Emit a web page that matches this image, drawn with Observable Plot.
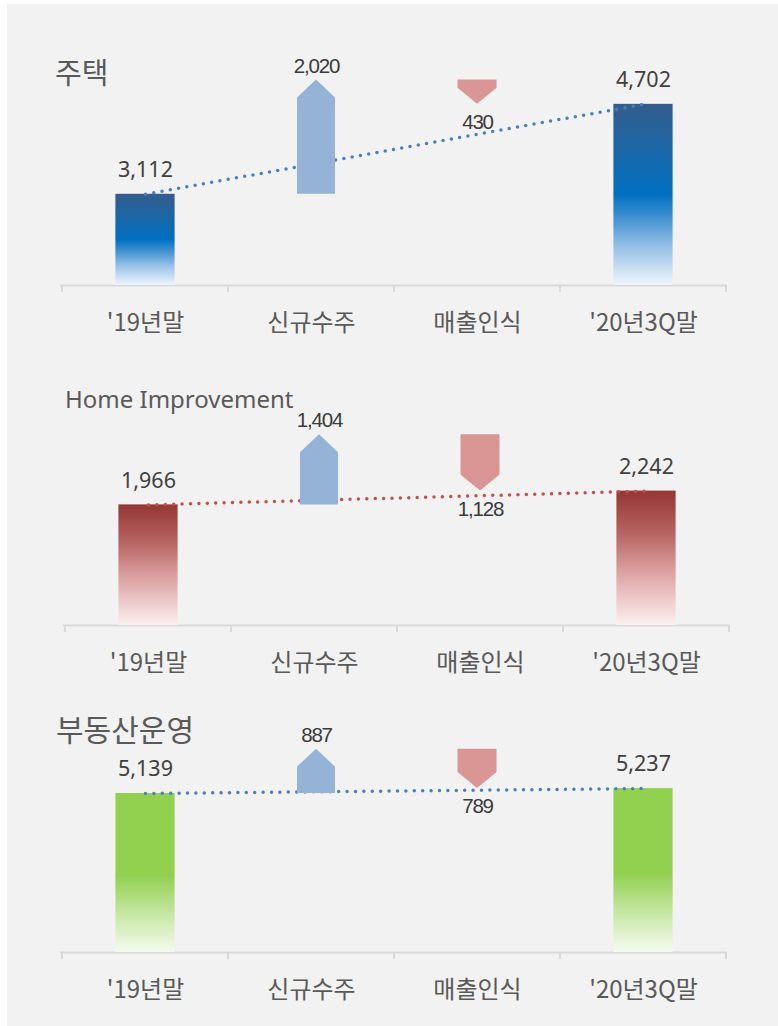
<!DOCTYPE html>
<html>
<head>
<meta charset="utf-8">
<script src="https://cdn.jsdelivr.net/npm/d3@7"></script>
<script src="https://cdn.jsdelivr.net/npm/@observablehq/plot@0.6"></script>
<style>
  body { margin: 0; background: #ffffff; }
  #page { position: relative; width: 778px; height: 1026px; overflow: hidden; }
  #bg { position: absolute; left: 7px; top: 4px; right: 0; bottom: 0; background: #f2f2f2; }
  .panel { position: absolute; left: 0; }
  .title { position: absolute; color: #595959; line-height: 1; white-space: nowrap; }
  g[font-family="Liberation Sans"] text { letter-spacing: -1.2px; }
</style>
</head>
<body>
<svg width="0" height="0" style="position:absolute">
  <defs>
    <linearGradient id="gBlue" x1="0" y1="0" x2="0" y2="1">
      <stop offset="0" stop-color="#355c8d"/>
      <stop offset="0.5" stop-color="#0070c0"/>
      <stop offset="0.62" stop-color="#3c8fd0"/>
      <stop offset="0.8" stop-color="#9cc4e8"/>
      <stop offset="1" stop-color="#eef5fc"/>
    </linearGradient>
    <linearGradient id="gRed" x1="0" y1="0" x2="0" y2="1">
      <stop offset="0" stop-color="#943634"/>
      <stop offset="0.33" stop-color="#b86664"/>
      <stop offset="0.6" stop-color="#dca0a0"/>
      <stop offset="1" stop-color="#fcf0f0"/>
    </linearGradient>
    <linearGradient id="gGreen" x1="0" y1="0" x2="0" y2="1">
      <stop offset="0" stop-color="#92d050"/>
      <stop offset="0.52" stop-color="#92d050"/>
      <stop offset="0.75" stop-color="#c4e6a0"/>
      <stop offset="1" stop-color="#f5fbef"/>
    </linearGradient>
  </defs>
</svg>
<div id="page">
  <div id="bg"></div>
</div>
<script>
// ---- data ----
const categories = ["'19년말", "신규수주", "매출인식", "'20년3Q말"];
const segmentTitles = ["주택", "Home Improvement", "부동산운영"];
const startBalance = [3112, 1966, 5139];
const newOrders = [2020, 1404, 887];
const salesRecognized = [430, 1128, 789];
const endBalance = [4702, 2242, 5237];

// ---- layout / style ----
const panels = [
  {top: 0, height: 340, ml: 60, mr: 51, mt: 40, mb: 55, domain: [1500, 5830], grad: "gBlue", dots: "#4a7ebf",
   title: {left: 55, top: 57, size: 29, font: "'Noto Sans CJK KR'"}},
  {top: 340, height: 340, ml: 63, mr: 48, mt: 50, mb: 55, domain: [-446, 4254], grad: "gRed", dots: "#c0504d",
   title: {left: 65, top: 387, size: 24, font: "'Noto Sans'"}},
  {top: 680, height: 346, ml: 60, mr: 51, mt: 40, mb: 74, domain: [1959, 6599], grad: "gGreen", dots: "#4a7ebf",
   title: {left: 56, top: 713, size: 30, font: "'Noto Sans CJK KR'"}}
];
const upColor = "#95b3d7", downColor = "#d99694";
const ns = "http://www.w3.org/2000/svg";
const fmt = d3.format(",");

function arrowMark(cat, from, to, color, width, tip, dx) {
  return (index, scales) => {
    const x = scales.x, y = scales.y;
    const bw = x.bandwidth ? x.bandwidth() : 0;
    const cx = x(cat) + bw / 2 + dx;
    const y0 = y(from), y1 = y(to);
    const dir = y1 < y0 ? -1 : 1;
    const sh = y1 - dir * tip;
    const hw = width / 2;
    const pts = [[cx - hw, y0], [cx - hw, sh], [cx, y1], [cx + hw, sh], [cx + hw, y0]];
    const p = document.createElementNS(ns, "path");
    p.setAttribute("d", "M" + pts.map(q => q.join(",")).join("L") + "Z");
    p.setAttribute("fill", color);
    return p;
  };
}

function boundaryTicks(base, len, color) {
  return (index, scales) => {
    const x = scales.x, y = scales.y;
    const bw = x.bandwidth();
    const xs = categories.map(c => x(c));
    xs.push(x(categories[categories.length - 1]) + bw);
    const g = document.createElementNS(ns, "g");
    const y0 = y(base);
    for (const xv of xs) {
      const l = document.createElementNS(ns, "line");
      l.setAttribute("x1", xv); l.setAttribute("x2", xv);
      l.setAttribute("y1", y0); l.setAttribute("y2", y0 + len);
      l.setAttribute("stroke", color); l.setAttribute("stroke-width", 2);
      g.appendChild(l);
    }
    return g;
  };
}

const page = document.getElementById("page");

panels.forEach((pc, i) => {
  const base = pc.domain[0];
  const peak = startBalance[i] + newOrders[i];
  const bars = [
    {cat: categories[0], value: startBalance[i]},
    {cat: categories[3], value: endBalance[i]}
  ];
  const plot = Plot.plot({
    width: 778,
    height: pc.height,
    marginLeft: pc.ml,
    marginRight: pc.mr,
    marginTop: pc.mt,
    marginBottom: pc.mb,
    style: {background: "transparent", overflow: "visible"},
    x: {type: "band", domain: categories, padding: 0, axis: null},
    y: {domain: pc.domain, axis: null},
    marks: [
      Plot.ruleY([base], {stroke: "#d9d9d9", strokeWidth: 2}),
      boundaryTicks(base, 7, "#d9d9d9"),
      Plot.barY(bars, {x: "cat", y1: base, y2: "value", fill: `url(#${pc.grad})`, insetLeft: 53.4, insetRight: 53.4}),
      Plot.line(bars, {x: "cat", y: "value", stroke: pc.dots, strokeWidth: 3.5, strokeDasharray: "0 8.4", strokeLinecap: "round"}),
      arrowMark(categories[1], startBalance[i], peak, upColor, 38, 18, 5),
      arrowMark(categories[2], peak, endBalance[i], downColor, 39, 16, 0),
      Plot.text(bars, {x: "cat", y: "value", text: d => fmt(d.value), dy: -24, fontSize: 21.5, fontFamily: "Noto Sans", fill: "#404040"}),
      Plot.text([{cat: categories[1], v: peak, t: newOrders[i]}], {x: "cat", y: "v", text: d => fmt(d.t), dx: 5, dy: -14, fontSize: 20.5, fontFamily: "Liberation Sans", fill: "#3a3a3a"}),
      Plot.text([{cat: categories[2], v: endBalance[i], t: salesRecognized[i]}], {x: "cat", y: "v", text: d => fmt(d.t), dy: 18, fontSize: 20.5, fontFamily: "Liberation Sans", fill: "#3a3a3a"}),
      Plot.text(categories, {x: d => d, frameAnchor: "bottom", dy: 45, fontSize: 24, fontFamily: "Noto Sans CJK KR", fill: "#595959"})
    ]
  });
  const holder = document.createElement("div");
  holder.className = "panel";
  holder.style.top = pc.top + "px";
  holder.appendChild(plot);
  page.appendChild(holder);

  const t = document.createElement("div");
  t.className = "title";
  t.textContent = segmentTitles[i];
  t.style.left = pc.title.left + "px";
  t.style.top = pc.title.top + "px";
  t.style.fontSize = pc.title.size + "px";
  t.style.fontFamily = pc.title.font;
  page.appendChild(t);
});
</script>
</body>
</html>
